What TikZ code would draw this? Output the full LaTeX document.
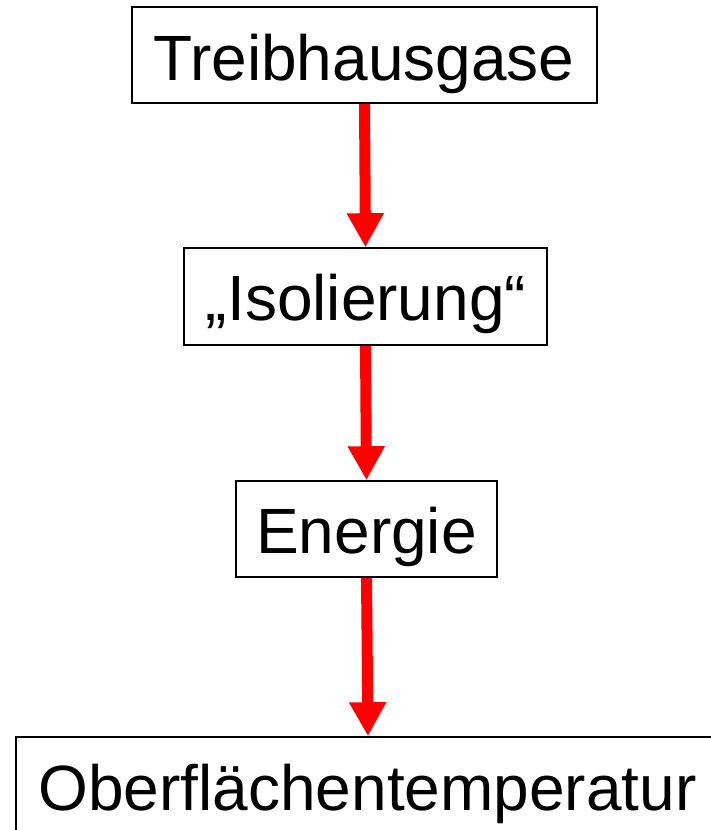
\documentclass[tikz,border=0pt]{standalone}
\usepackage{fontspec}
\setmainfont{Liberation Sans}
\usetikzlibrary{arrows.meta}
\begin{document}
\begin{tikzpicture}[x=1pt,y=-1pt,
  boxst/.style={draw=black,line width=1.6pt,rectangle,inner sep=0pt,fill=white},
  lbl/.style={anchor=base,inner sep=0pt,font=\fontsize{64}{76}\selectfont},
  arr/.style={draw=red,line width=11pt,-{Triangle[width=35pt,length=34pt]},shorten <=0pt,shorten >=0pt}]
\useasboundingbox (0,0) rectangle (710,830);
\node[boxst,minimum width=465pt,minimum height=96pt] (b1) at (364.5,55) {};
\node[boxst,minimum width=363pt,minimum height=97pt] (b2) at (365.5,296.5) {};
\node[boxst,minimum width=261pt,minimum height=96pt] (b3) at (366.5,529) {};
\node[boxst,minimum width=704pt,minimum height=96pt] (b4) at (368,785) {};
\node[lbl] (t1) at (364,80) {Treibhausgase};
\node[lbl] (t2) at (366,320) {„Isolierung“};
\node[lbl] (t3) at (366.5,553) {Energie};
\node[lbl] (t4) at (367.5,810) {Oberflächentemperatur};
\draw[arr] (b1.south) -- (b2.north);
\draw[arr] (b2.south) -- (b3.north);
\draw[arr] (b3.south) -- (b4.north);
\end{tikzpicture}
\end{document}
